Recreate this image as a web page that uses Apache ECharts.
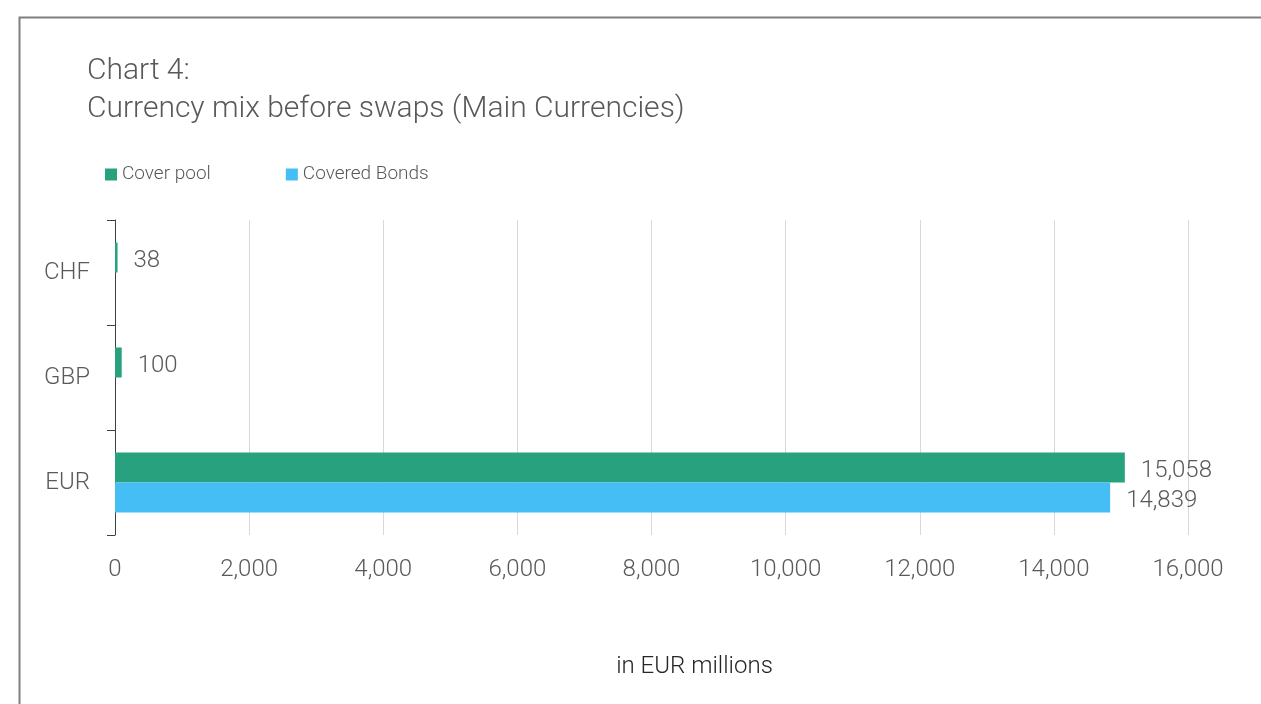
<!DOCTYPE html>
<html>
<head>
<meta charset="utf-8">
<script src="https://cdn.jsdelivr.net/npm/echarts@6/dist/echarts.min.js"></script>
<style>
  html, body { margin: 0; padding: 0; background: #fff; }
  #main { width: 1261px; height: 704px; }
</style>
</head>
<body>
<div id="main"></div>
<script>
// data (bottom to top on the category axis)
var currencies = ['EUR', 'GBP', 'CHF'];
var coverPool = [15058, 100, 38];
var coveredBonds = [14839, null, null];
var xTicks = [0, 2000, 4000, 6000, 8000, 10000, 12000, 14000, 16000];

var font = 'Roboto';
var grey = '#595959';

function fmt(v) {
  return Number(v).toLocaleString('en-US');
}

var barLabel = {
  show: true,
  position: 'right',
  distance: 16,
  offset: [0, 3],
  fontSize: 24,
  fontFamily: font,
  fontWeight: 300,
  color: grey,
  formatter: function (p) { return fmt(p.value); }
};

var chart = echarts.init(document.getElementById('main'));

var option = {
  backgroundColor: '#fff',
  animation: false,
  textStyle: { fontFamily: font, fontWeight: 300 },
  title: {
    text: 'Chart 4:\nCurrency mix before swaps (Main Currencies)',
    left: 82,
    top: 47,
    textStyle: {
      fontFamily: font,
      fontWeight: 300,
      fontSize: 30,
      lineHeight: 38,
      color: grey
    }
  },
  legend: {
    data: ['Cover pool', 'Covered Bonds'],
    left: 100,
    top: 160,
    itemWidth: 12,
    itemHeight: 12,
    itemGap: 75,
    icon: 'rect',
    textStyle: { fontFamily: font, fontWeight: 300, fontSize: 19, color: grey }
  },
  grid: {
    left: 115,
    right: 73,
    top: 220,
    bottom: 169,
    containLabel: false
  },
  xAxis: {
    type: 'value',
    min: xTicks[0],
    max: xTicks[xTicks.length - 1],
    interval: 2000,
    name: 'in EUR millions',
    nameLocation: 'middle',
    nameGap: 120,
    nameTextStyle: { fontFamily: font, fontWeight: 300, fontSize: 24, color: '#262626', padding: [0, 0, 0, 86] },
    axisLine: { show: false },
    axisTick: { show: false },
    axisLabel: {
      margin: 23,
      fontSize: 24,
      color: grey,
      fontFamily: font,
      fontWeight: 300,
      formatter: function (v) { return fmt(v); }
    },
    splitLine: { lineStyle: { color: '#d9d9d9', width: 1 } }
  },
  yAxis: {
    type: 'category',
    data: currencies,
    axisLine: { show: true, lineStyle: { color: '#404040', width: 1 } },
    axisTick: { show: true, length: 8, lineStyle: { color: '#404040', width: 1 } },
    axisLabel: { margin: 25, fontSize: 24, color: grey, fontFamily: font, fontWeight: 300, padding: [4, 0, 0, 0] }
  },
  series: [
    {
      name: 'Cover pool',
      type: 'bar',
      data: coverPool,
      barWidth: 30,
      barGap: '0%',
      itemStyle: { color: '#28a17f' },
      label: barLabel
    },
    {
      name: 'Covered Bonds',
      type: 'bar',
      data: coveredBonds,
      barWidth: 30,
      barGap: '0%',
      itemStyle: { color: '#45bdf5' },
      label: barLabel
    }
  ],
  graphic: [
    {
      type: 'polyline',
      shape: { points: [[19.5, 704], [19.5, 17.5], [1261, 17.5]] },
      style: { stroke: '#7f7f7f', lineWidth: 2, fill: null },
      silent: true
    }
  ]
};

chart.setOption(option);
</script>
</body>
</html>
